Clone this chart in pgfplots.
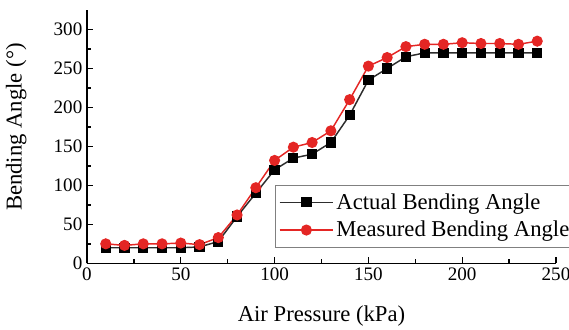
\documentclass[border=0pt]{standalone}
\usepackage{fontspec}
\setmainfont{Liberation Serif}
\usepackage{pgfplots}
\pgfplotsset{compat=1.18}
\usetikzlibrary{calc}
\definecolor{myred}{RGB}{228,38,36}
\definecolor{mygray}{RGB}{45,45,45}
\begin{document}
\begin{tikzpicture}
\begin{axis}[name=ax, scale only axis, width=351.75pt, height=190pt,
  xmin=0, xmax=250, ymin=0, ymax=325,
  axis x line*=bottom, axis y line*=left,
  axis line style={-, line width=1.2pt, black},
  xtick={0,50,...,250}, ytick={0,50,...,300},
  minor x tick num=1, minor y tick num=1,
  tick align=inside, major tick length=4.5pt, minor tick length=3pt,
  every tick/.style={black, line width=1pt},
  ticklabel style={font=\fontsize{14.3}{16}\selectfont},
  /pgf/number format/assume math mode=true,
  xlabel={Air Pressure (kPa)}, ylabel={Bending Angle (°)},
  label style={font=\fontsize{17}{20}\selectfont},
  xlabel style={at={(axis description cs:0.5,-0.208)}, anchor=center},
  ylabel style={at={(axis description cs:-0.1507,0.538)}, anchor=center},
  legend style={at={(axis cs:100,100.4)}, anchor=north west, draw=gray, line width=0.6pt,
    font=\fontsize{17}{20}\selectfont, legend cell align=left, row sep=3.5pt, inner ysep=4pt},
  legend image code/.code={\draw[mark repeat=2,mark phase=2] plot coordinates {(0pt,0pt) (20pt,0pt) (40pt,0pt)};},
]
\addplot[mygray, line width=1.1pt, mark=square*, mark size=3.3pt, mark options={fill=black, draw=black, solid}]
coordinates {(10,20) (20,20) (30,20) (40,20) (50,20) (60,21) (70,28) (80,60) (90,90) (100,120) (110,135) (120,140) (130,155) (140,190) (150,235) (160,250) (170,265) (180,270) (190,270) (200,270) (210,270) (220,270) (230,270) (240,270)};
\addlegendentry{Actual Bending Angle}
\addplot[myred, line width=1.1pt, mark=*, mark size=3.6pt, mark options={fill=myred, draw=myred, solid}]
coordinates {(10,25) (20,23) (30,25) (40,25) (50,26) (60,24) (70,33) (80,62) (90,97) (100,132) (110,149) (120,155) (130,170) (140,210) (150,253) (160,264) (170,278) (180,281) (190,281) (200,283) (210,282) (220,282) (230,281) (240,285)};
\addlegendentry{Measured Bending Angle}
\end{axis}
\pgfresetboundingbox
\path[use as bounding box] ($(ax.south west)+(-65.25pt,-50pt)$) rectangle ($(ax.north east)+(9.75pt,7.5pt)$);
\end{tikzpicture}
\end{document}
